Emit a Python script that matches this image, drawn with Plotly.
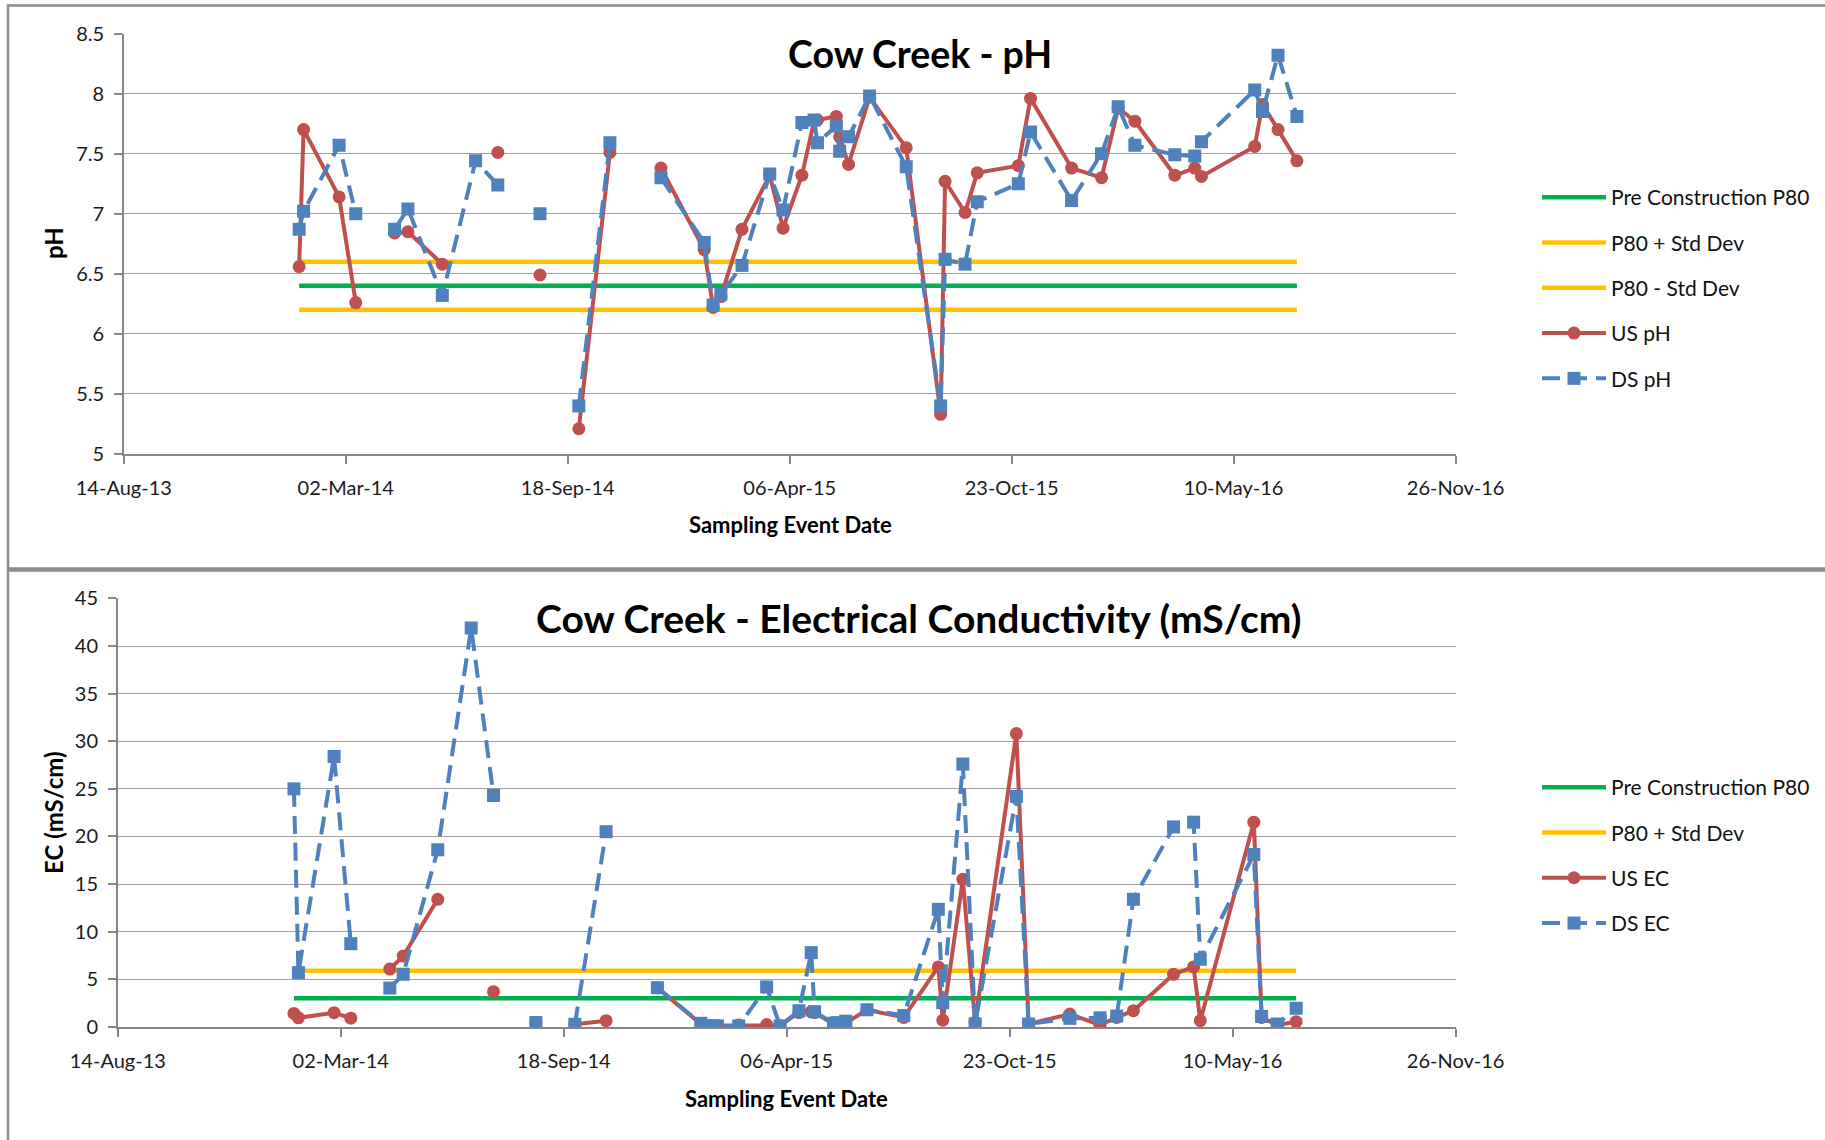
import plotly.graph_objects as go

W, H = 1825, 1140

# ---------------- data ----------------
dates = [
    "2014-01-19", "2014-01-23", "2014-02-24", "2014-03-11", "2014-03-28",
    "2014-04-15", "2014-04-27", "2014-05-28", "2014-06-27", "2014-07-17",
    "2014-08-05", "2014-08-24", "2014-09-10", "2014-09-28", "2014-10-26",
    "2014-11-17", "2014-12-11", "2015-01-19", "2015-01-27", "2015-02-03",
    "2015-02-22", "2015-03-19", "2015-03-31", "2015-04-17", "2015-04-28",
    "2015-05-01", "2015-05-18", "2015-05-21", "2015-05-29", "2015-06-17",
    "2015-07-20", "2015-08-20", "2015-08-24", "2015-09-11", "2015-09-22",
    "2015-10-29", "2015-11-09", "2015-12-16", "2016-01-12", "2016-01-27",
    "2016-02-11", "2016-03-18", "2016-04-05", "2016-04-11", "2016-05-29",
    "2016-06-05", "2016-06-19", "2016-07-06",
]

us_ph = [
    6.56, 7.70, 7.14, 6.26, None,
    6.84, 6.85, 6.58, None, 7.51,
    None, 6.49, None, 5.21, 7.51,
    None, 7.38, 6.70, 6.22, 6.31,
    6.87, 7.32, 6.88, 7.32, 7.77,
    7.78, 7.81, 7.64, 7.41, 7.97,
    7.55, 5.33, 7.27, 7.01, 7.34,
    7.40, 7.96, 7.38, 7.30, 7.88,
    7.77, 7.32, 7.38, 7.31, 7.56,
    7.91, 7.70, 7.44,
]

ds_ph = [
    6.87, 7.02, 7.57, 7.00, None,
    6.87, 7.04, 6.32, 7.44, 7.24,
    None, 7.00, None, 5.40, 7.59,
    None, 7.30, 6.76, 6.24, 6.33,
    6.57, 7.33, 7.03, 7.76, 7.78,
    7.59, 7.73, 7.52, 7.64, 7.98,
    7.39, 5.40, 6.62, 6.58, 7.10,
    7.25, 7.68, 7.11, 7.50, 7.89,
    7.57, 7.49, 7.48, 7.60, 8.03,
    7.85, 8.32, 7.81,
]

us_ec = [
    1.41, 0.95, 1.49, 0.92, None,
    6.07, 7.44, 13.4, None, 3.70,
    None, 0.46, None, 0.27, 0.65,
    None, 4.10, 0.30, 0.15, 0.15,
    0.20, 0.24, 0.15, 1.50, 1.60,
    1.50, 0.30, 0.40, 0.40, 1.80,
    1.00, 6.30, 0.70, 15.5, 0.50,
    30.8, 0.30, 1.35, 0.20, 1.00,
    1.70, 5.52, 6.30, 0.65, 21.5,
    1.00, 0.20, 0.55,
]

ds_ec = [
    25.0, 5.7, 28.4, 8.74, None,
    4.08, 5.53, 18.6, 41.9, 24.3,
    None, 0.46, None, 0.27, 20.5,
    None, 4.12, 0.38, 0.10, 0.10,
    0.10, 4.20, 0.10, 1.70, 7.80,
    1.60, 0.38, 0.45, 0.60, 1.80,
    1.20, 12.35, 2.55, 27.6, 0.30,
    24.2, 0.30, 0.90, 0.96, 1.14,
    13.4, 21.0, 21.5, 7.10, 18.1,
    1.10, 0.30, 1.95,
]

ph_p80 = 6.4
ph_p80_plus_sd = 6.6
ph_p80_minus_sd = 6.2
ec_p80 = 3.0
ec_p80_plus_sd = 5.9

x_range = ["2013-08-14", "2016-11-26"]
x_tick0 = "2013-08-14"
x_tick_step_days = 200

ph_range = [5, 8.5]
ph_step = 0.5
ec_range = [0, 45]
ec_step = 5

# ---------------- style ----------------
FONT = "Lato"
RED = "#C0504D"
BLUE = "#4F81BD"
GREEN = "#00B050"
YELLOW = "#FFC000"
GRID = "#A0A0A0"
AXIS = "#868686"
BORDER = "#8C8C8C"


def fx(px):
    return px / W


def fy(py):
    return 1 - py / H


fig = go.Figure()

ref_x = [dates[0], dates[-1]]


def add_ref(name, val, color, xa, ya, leg):
    fig.add_trace(go.Scatter(
        x=ref_x, y=[val, val], mode="lines", name=name,
        line=dict(color=color, width=4.5),
        xaxis=xa, yaxis=ya, legend=leg, legendgroup=name + xa,
        hoverinfo="skip"))


def add_series(name, yvals, kind, xa, ya, leg):
    if kind == "US":
        line = dict(color=RED, width=4)
        marker = dict(symbol="circle", size=13, color=RED)
    else:
        line = dict(color=BLUE, width=4, dash="18px,9px")
        marker = dict(symbol="square", size=13, color=BLUE)
    fig.add_trace(go.Scatter(
        x=dates, y=yvals, mode="lines+markers", name=name,
        line=line, marker=marker, connectgaps=False,
        xaxis=xa, yaxis=ya, legend=leg, legendgroup=name + xa))


# pH panel
add_ref("Pre Construction P80", ph_p80, GREEN, "x", "y", "legend")
add_ref("P80 + Std Dev", ph_p80_plus_sd, YELLOW, "x", "y", "legend")
add_ref("P80 - Std Dev", ph_p80_minus_sd, YELLOW, "x", "y", "legend")
add_series("US pH", us_ph, "US", "x", "y", "legend")
add_series("DS pH", ds_ph, "DS", "x", "y", "legend")

# EC panel
add_ref("Pre Construction P80", ec_p80, GREEN, "x2", "y2", "legend2")
add_ref("P80 + Std Dev", ec_p80_plus_sd, YELLOW, "x2", "y2", "legend2")
add_series("US EC", us_ec, "US", "x2", "y2", "legend2")
add_series("DS EC", ds_ec, "DS", "x2", "y2", "legend2")

tickfont = dict(family=FONT, size=20, color="#1A1A1A")

xcommon = dict(
    type="date", range=x_range, tick0=x_tick0,
    dtick=x_tick_step_days * 86400000, tickformat="%d-%b-%y",
    ticks="outside", ticklen=8, tickwidth=1.5, tickcolor=AXIS,
    showline=True, linecolor=AXIS, linewidth=1.5, showgrid=False,
    zeroline=False, tickfont=tickfont, ticklabelstandoff=7,
    automargin=False, fixedrange=True)

ycommon = dict(
    ticks="outside", ticklen=8, tickwidth=1.5, tickcolor=AXIS,
    showline=True, linecolor=AXIS, linewidth=1.5,
    showgrid=True, gridcolor=GRID, gridwidth=1.3, zeroline=False,
    tickfont=tickfont, ticklabelstandoff=6, automargin=False,
    fixedrange=True)

legend_font = dict(family=FONT, size=21, color="#111111")

fig.update_layout(
    width=W, height=H,
    margin=dict(l=0, r=0, t=0, b=0),
    paper_bgcolor="white", plot_bgcolor="white",
    font=dict(family=FONT, color="#000000"),
    xaxis=dict(domain=[fx(123.8), fx(1455.6)], anchor="y", **xcommon),
    yaxis=dict(domain=[fy(454), fy(33.5)], anchor="x", range=ph_range,
               tick0=ph_range[0], dtick=ph_step, **ycommon),
    xaxis2=dict(domain=[fx(117.8), fx(1455.6)], anchor="y2", **xcommon),
    yaxis2=dict(domain=[fy(1026.9), fy(598.4)], anchor="x2", range=ec_range,
                tick0=ec_range[0], dtick=ec_step, **ycommon),
    legend=dict(x=fx(1537), y=fy(177), xanchor="left", yanchor="top",
                font=legend_font, itemwidth=64, tracegroupgap=15,
                bgcolor="rgba(0,0,0,0)",
                itemclick=False, itemdoubleclick=False),
    legend2=dict(x=fx(1537), y=fy(767), xanchor="left", yanchor="top",
                 font=legend_font, itemwidth=64, tracegroupgap=15,
                 bgcolor="rgba(0,0,0,0)",
                 itemclick=False, itemdoubleclick=False),
    showlegend=True,
)

title_font = dict(family=FONT, size=37.5, color="#000000", weight="bold")
axis_title_font = dict(family=FONT, size=22, color="#000000", weight="bold")

fig.add_annotation(text="Cow Creek - pH", x=fx(920), y=fy(53), xref="paper",
                   yref="paper", xanchor="center", yanchor="middle",
                   showarrow=False, font=title_font)
fig.add_annotation(text="Cow Creek - Electrical Conductivity (mS/cm)",
                   x=fx(919), y=fy(618), xref="paper", yref="paper",
                   xanchor="center", yanchor="middle", showarrow=False,
                   font=dict(title_font, size=39))
fig.add_annotation(text="pH", x=fx(53), y=fy(243), xref="paper", yref="paper",
                   xanchor="center", yanchor="middle", textangle=-90,
                   showarrow=False, font=dict(axis_title_font, size=24))
fig.add_annotation(text="EC (mS/cm)", x=fx(53), y=fy(813), xref="paper",
                   yref="paper", xanchor="center", yanchor="middle",
                   textangle=-90, showarrow=False,
                   font=dict(axis_title_font, size=24))
fig.add_annotation(text="Sampling Event Date", x=fx(790), y=fy(524),
                   xref="paper", yref="paper", xanchor="center",
                   yanchor="middle", showarrow=False, font=axis_title_font)
fig.add_annotation(text="Sampling Event Date", x=fx(786), y=fy(1098),
                   xref="paper", yref="paper", xanchor="center",
                   yanchor="middle", showarrow=False, font=axis_title_font)

# panel borders
fig.add_shape(type="rect", xref="paper", yref="paper",
              x0=fx(8), x1=fx(1840), y0=fy(1150), y1=fy(5.5),
              line=dict(color=BORDER, width=2.5), layer="below")
fig.add_shape(type="line", xref="paper", yref="paper",
              x0=fx(8), x1=fx(1840), y0=fy(569.5), y1=fy(569.5),
              line=dict(color=BORDER, width=4.5), layer="below")

fig.write_html("out.html", post_script="document.body.style.margin='0';",
               config={"displayModeBar": False})
